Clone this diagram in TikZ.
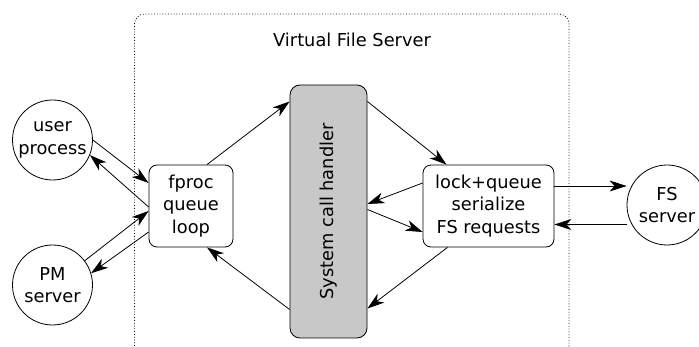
\documentclass[tikz,border=0pt]{standalone}
\usepackage{fontspec}
\setmainfont{DejaVu Sans}
\usetikzlibrary{arrows.meta}
\begin{document}
\begin{tikzpicture}[x=1pt,y=-1pt,
  every node/.style={font=\fontsize{17.8}{22.5}\selectfont, align=center, inner sep=0pt},
  proc/.style={circle, draw, line width=0.8pt, minimum size=80pt},
  box/.style={draw, rounded corners=8pt, line width=0.8pt},
  arr/.style={line width=0.8pt, -{Stealth[length=17pt,width=11pt,inset=5pt]}}]
\useasboundingbox (0,0) rectangle (699,347);
\clip (0,0) rectangle (699,347);
% virtual file server frame
\draw[dotted, line width=0.8pt, rounded corners=10pt] (134.5,360) -- (134.5,14) -- (569,14) -- (569,360);
\node (title) at (352,40) {Virtual File Server};
% nodes
\node[proc] (user) at (52.5,140) {user\\process};
\node[proc] (pm) at (52.5,285) {PM\\server};
\node[proc] (fs) at (667,205) {FS\\server};
\node[box, minimum width=84pt, minimum height=82pt] (fproc) at (191,206) {fproc\\queue\\loop};
\node[box, fill={rgb,255:red,200;green,200;blue,200}, rounded corners=10pt, minimum width=77pt, minimum height=253pt] (sys) at (328.5,211.5) {};
\node[rotate=90] (systext) at (sys.center) {System call handler};
\node[box, minimum width=131pt, minimum height=82pt] (lock) at (488.5,206) {lock+queue\\serialize\\FS requests};
% connectors
\coordinate (fpA) at ([yshift=23pt]fproc.west);
\coordinate (fpB) at ([yshift=-1pt]fproc.west);
\coordinate (fpC) at ([yshift=-5pt]fproc.west);
\coordinate (fpD) at ([yshift=-26pt]fproc.west);
\draw[arr] (user.0) -- (fpA);
\draw[arr] (fpB) -- (user.-22);
\draw[arr] (pm.37) -- (fpC);
\draw[arr] (fpD) -- (pm.17);
\draw[arr] ([xshift=16pt]fproc.north) -- ([yshift=110pt]sys.west);
\draw[arr] ([yshift=-98pt]sys.west) -- ([xshift=16pt]fproc.south);
\draw[arr] ([yshift=110pt]sys.east) -- ([xshift=-42pt]lock.north);
\draw[arr] ([yshift=23pt]lock.west) -- ([yshift=7.5pt]sys.east);
\draw[arr] ([yshift=2pt]sys.east) -- ([yshift=-26pt]lock.west);
\draw[arr] ([xshift=-41pt]lock.south) -- ([yshift=-97pt]sys.east);
\draw[arr] ([yshift=20pt]lock.east) -- (fs.west |- 0,186) ;
\draw[arr] (fs.west |- 0,224.5) -- ([yshift=-18.5pt]lock.east);
\end{tikzpicture}
\end{document}
